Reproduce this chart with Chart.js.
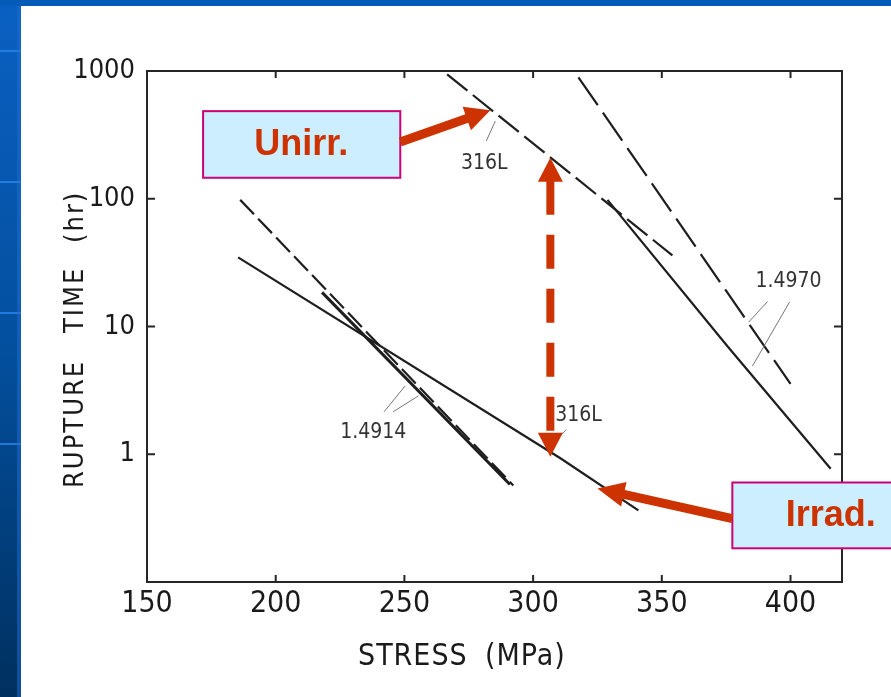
<!DOCTYPE html>
<html><head><meta charset="utf-8">
<script src="https://cdn.jsdelivr.net/npm/chart.js@4.4.1/dist/chart.umd.min.js"></script>
<style>html,body{margin:0;padding:0;background:#fff;overflow:hidden}canvas{display:block}</style>
</head><body>
<canvas id="c" width="891" height="697"></canvas>
<script>
// ---- axis ticks ----
const xTicks = [150, 200, 250, 300, 350, 400];
const yTicks = [1, 10, 100, 1000];

// ---- series (stress MPa, rupture time hr) ----
const s316UnirrX = [266.6, 354.1];
const s316UnirrY = [942, 36];
const s316IrrX = [185.4, 310.6, 340.9];
const s316IrrY = [34.8, 0.93, 0.364];
const s4970UnirrX = [317.6, 400.0];
const s4970UnirrY = [893, 3.55];
const s4970IrrX = [328.9, 375.5, 415.6];
const s4970IrrY = [98, 7.0, 0.77];
const s4914UnirrX = [186.2, 292.3];
const s4914UnirrY = [98, 0.57];
const s4914IrrX = [218.0, 291.0];
const s4914IrrY = [18.5, 0.58];

const NARROW = "'Liberation Sans Narrow','DejaVu Sans Condensed','Arial Narrow',sans-serif";
const BOLD = "'Liberation Sans',Arial,sans-serif";
const zip = (xs, ys) => xs.map((x, i) => ({x, y: ys[i]}));

function ds(xs, ys, dash, w) {
  return {data: zip(xs, ys), showLine: true, pointRadius: 0, borderColor: '#1e1e1e',
    borderWidth: w || 2.2, borderDash: dash || [], fill: false, tension: 0};
}

function arrow(ctx, x1, y1, x2, y2, shaft, headL, headW, color) {
  const a = Math.atan2(y2 - y1, x2 - x1), len = Math.hypot(x2 - x1, y2 - y1);
  ctx.save(); ctx.translate(x1, y1); ctx.rotate(a);
  ctx.fillStyle = color; ctx.beginPath();
  ctx.moveTo(0, -shaft / 2); ctx.lineTo(len - headL, -shaft / 2); ctx.lineTo(len - headL, -headW / 2);
  ctx.lineTo(len, 0); ctx.lineTo(len - headL, headW / 2); ctx.lineTo(len - headL, shaft / 2);
  ctx.lineTo(0, shaft / 2); ctx.closePath(); ctx.fill(); ctx.restore();
}

const deco = {
  id: 'deco',
  beforeDraw(c) {
    const ctx = c.ctx;
    ctx.save();
    ctx.fillStyle = '#ffffff'; ctx.fillRect(0, 0, c.width, c.height);
    const g = ctx.createLinearGradient(0, 0, 0, c.height);
    g.addColorStop(0, '#0a60c2'); g.addColorStop(0.5, '#034f9e'); g.addColorStop(1, '#00305f');
    ctx.fillStyle = g; ctx.fillRect(0, 0, 21, c.height);
    ctx.fillStyle = '#045cb8'; ctx.fillRect(0, 0, c.width, 6);
    ctx.fillStyle = 'rgba(40,130,230,0.85)';
    [50, 181, 312, 443].forEach(y => ctx.fillRect(0, y, 21, 2));
    ctx.fillStyle = 'rgba(30,110,210,0.5)'; ctx.fillRect(17, 6, 4, c.height);
    ctx.restore();
  },
  afterDraw(c) {
    const ctx = c.ctx, xs = c.scales.x, ys = c.scales.y, a = c.chartArea;
    const X = v => xs.getPixelForValue(v), Y = v => ys.getPixelForValue(v);
    ctx.save();
    // frame
    ctx.strokeStyle = '#262626'; ctx.lineWidth = 2;
    ctx.strokeRect(a.left, a.top, a.right - a.left, a.bottom - a.top);
    // inward ticks
    ctx.beginPath();
    xTicks.forEach(v => { const p = X(v); ctx.moveTo(p, a.bottom); ctx.lineTo(p, a.bottom - 7); ctx.moveTo(p, a.top); ctx.lineTo(p, a.top + 7); });
    yTicks.forEach(v => { const p = Y(v); ctx.moveTo(a.left, p); ctx.lineTo(a.left + 8, p); ctx.moveTo(a.right, p); ctx.lineTo(a.right - 8, p); });
    ctx.stroke();

    // axis titles
    ctx.fillStyle = '#1a1a1a';
    ctx.font = '27px ' + NARROW; ctx.textAlign = 'left'; ctx.textBaseline = 'alphabetic';
    ctx.letterSpacing = '2px';
    ctx.save(); ctx.translate(83, 0); ctx.rotate(-Math.PI / 2);
    ctx.fillText('RUPTURE', -488, 0); ctx.fillText('TIME', -333, 0); ctx.fillText('(hr)', -243, 0);
    ctx.restore();
    ctx.font = '30px ' + NARROW; ctx.letterSpacing = '1px';
    ctx.fillText('STRESS', 358, 665); ctx.fillText('(MPa)', 485, 665);
    ctx.letterSpacing = '0px';

    // leaders
    ctx.strokeStyle = '#777'; ctx.lineWidth = 1;
    const seg = (x1, y1, x2, y2) => { ctx.beginPath(); ctx.moveTo(X(x1), Y(y1)); ctx.lineTo(X(x2), Y(y2)); ctx.stroke(); };
    seg(281.8, 283, 285.3, 405);
    seg(391.1, 15.7, 383.7, 10.8);
    seg(399.6, 15.5, 385.2, 4.9);
    seg(242.1, 2.15, 250.3, 3.43);
    seg(245.6, 2.15, 255.4, 2.86);
    seg(312.9, 1.56, 310.2, 1.37);

    // curve labels
    ctx.fillStyle = '#333'; ctx.font = '21px ' + NARROW; ctx.textAlign = 'center'; ctx.textBaseline = 'middle';
    ctx.fillText('316L', X(281.0), Y(187.5));
    ctx.fillText('1.4970', X(399.2), Y(22.5));
    ctx.fillText('1.4914', X(237.9), Y(1.47));
    ctx.fillText('316L', X(317.6), Y(2.0));

    const red = '#cc3300';
    // boxes
    const box = (x1, y1, x2, y2, txt, tx, ty) => {
      const l = X(x1), t = Y(y1), r = X(x2), b = Y(y2);
      ctx.fillStyle = '#cdeeff'; ctx.fillRect(l, t, r - l, b - t);
      ctx.strokeStyle = '#cc0077'; ctx.lineWidth = 2; ctx.strokeRect(l, t, r - l, b - t);
      ctx.fillStyle = red; ctx.font = 'bold 36px ' + BOLD; ctx.textAlign = 'center'; ctx.textBaseline = 'middle';
      ctx.fillText(txt, X(tx), Y(ty) + 1);
    };
    box(171.8, 485, 248.4, 146, 'Unirr.', 209.9, 266);
    box(377.4, 0.601, 453.6, 0.1836, 'Irrad.', 415.6, 0.332);

    // arrows
    arrow(ctx, X(248.4), Y(278), X(283.4), Y(493), 9, 25, 25, red);
    arrow(ctx, X(377.4), Y(0.314), X(325.0), Y(0.540), 9, 27, 25, red);

    // dashed double arrow
    const ax = X(306.7), yt = Y(209), yb = Y(0.957), hl = 24, hw = 25;
    ctx.fillStyle = red;
    ctx.beginPath(); ctx.moveTo(ax, yt); ctx.lineTo(ax + hw / 2, yt + hl); ctx.lineTo(ax - hw / 2, yt + hl); ctx.closePath(); ctx.fill();
    ctx.beginPath(); ctx.moveTo(ax, yb); ctx.lineTo(ax + hw / 2, yb - hl); ctx.lineTo(ax - hw / 2, yb - hl); ctx.closePath(); ctx.fill();
    ctx.save();
    ctx.beginPath(); ctx.rect(ax - 10, yt + hl - 1, 20, (yb - hl) - (yt + hl) + 2); ctx.clip();
    ctx.strokeStyle = red; ctx.lineWidth = 8; ctx.setLineDash([34, 20]); ctx.lineCap = 'butt';
    ctx.beginPath(); ctx.moveTo(ax, yt + hl - 1); ctx.lineTo(ax, yb); ctx.stroke();
    ctx.restore();

    ctx.restore();
  }
};

new Chart(document.getElementById('c'), {
  type: 'scatter',
  data: {datasets: [
    ds(s316UnirrX, s316UnirrY, [26, 7]),
    ds(s316IrrX, s316IrrY),
    ds(s4970UnirrX, s4970UnirrY, [34, 9]),
    ds(s4970IrrX, s4970IrrY),
    ds(s4914UnirrX, s4914UnirrY, [20, 6]),
    ds(s4914IrrX, s4914IrrY, [], 3)
  ]},
  options: {
    responsive: false, animation: false, devicePixelRatio: 1,
    layout: {padding: {top: 71, right: 49, left: 0, bottom: 0}},
    plugins: {legend: {display: false}, tooltip: {enabled: false}},
    scales: {
      x: {type: 'linear', min: 150, max: 420, position: 'bottom',
        afterBuildTicks: s => { s.ticks = xTicks.map(v => ({value: v})); },
        afterFit: s => { s.height = 115; },
        grid: {display: false, drawTicks: false}, border: {display: false},
        ticks: {padding: 7, color: '#1a1a1a', font: {family: NARROW, size: 30, lineHeight: 1}, maxRotation: 0, autoSkip: false, callback: v => String(v)}
      },
      y: {type: 'logarithmic', min: 0.1, max: 1000, position: 'left',
        afterBuildTicks: s => { s.ticks = yTicks.map(v => ({value: v})); },
        afterFit: s => { s.width = 147; },
        grid: {display: false, drawTicks: false}, border: {display: false},
        ticks: {padding: 12, color: '#1a1a1a', font: {family: NARROW, size: 27, lineHeight: 1}, autoSkip: false, callback: v => String(v)}
      }
    }
  },
  plugins: [deco]
});
</script>
</body></html>
